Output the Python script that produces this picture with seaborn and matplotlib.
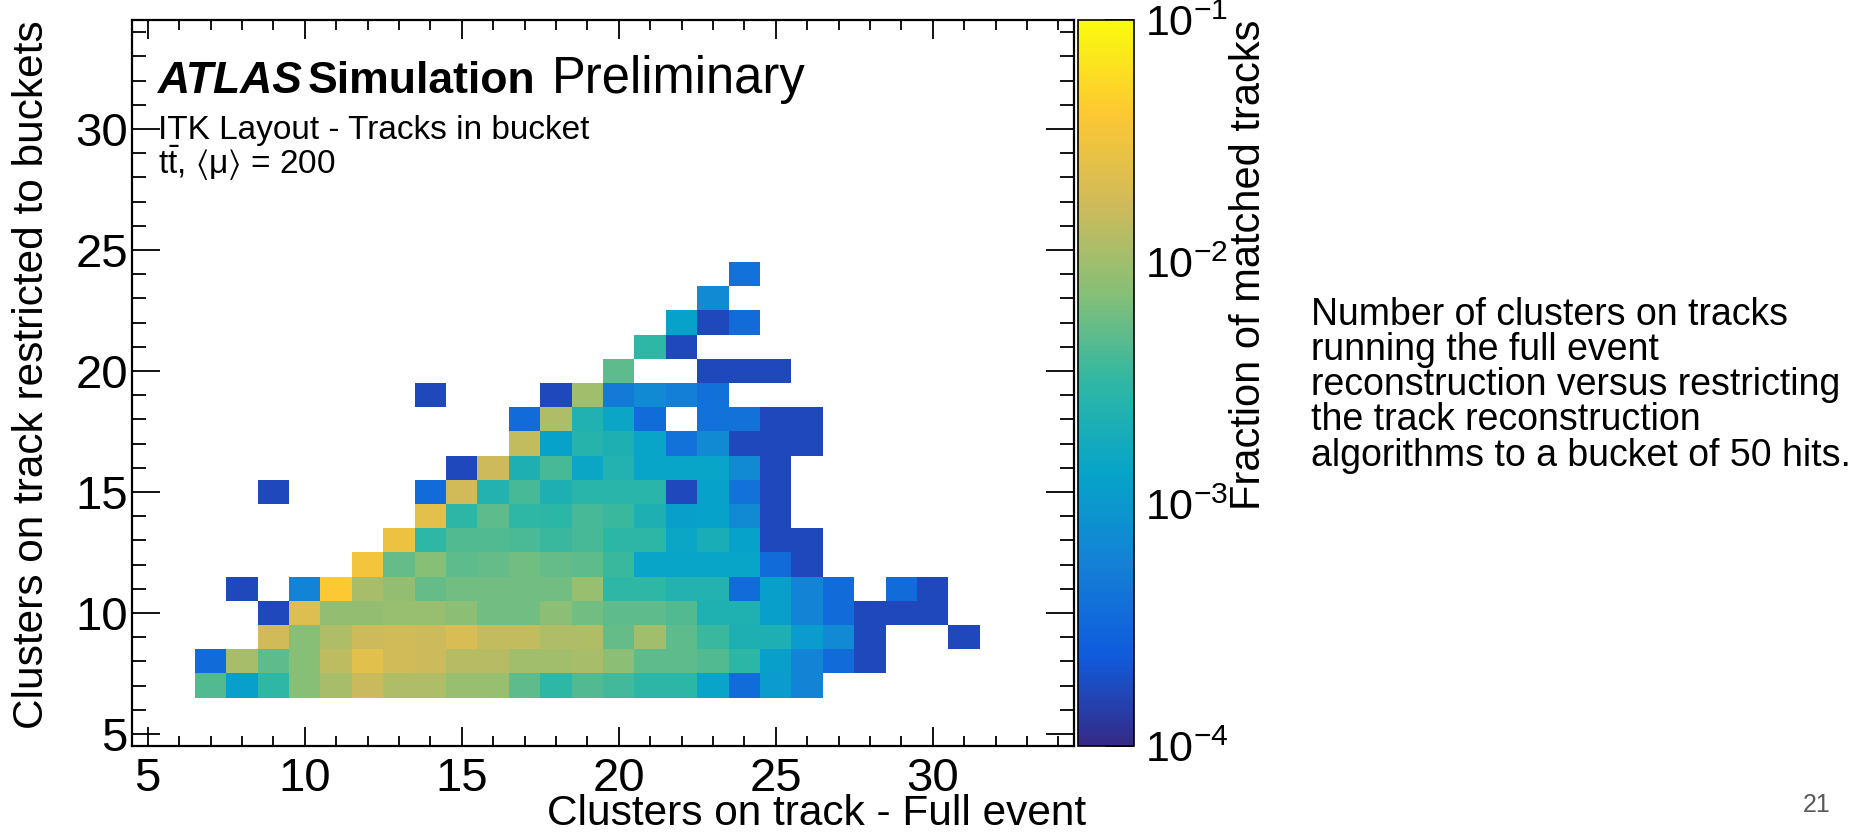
import numpy as np
import pandas as pd
import matplotlib
matplotlib.use("Agg")
import matplotlib.pyplot as plt
import seaborn as sns
from matplotlib.colors import LinearSegmentedColormap, LogNorm
from matplotlib.ticker import LogLocator, NullFormatter

# bins that carry entries
x_bins = list(range(7, 32))            # clusters on track - full event
y_bins = list(range(24, 6, -1))        # clusters on track restricted to buckets (top row first)

o = None
# fraction of matched tracks, one row per y bin (y = 24 ... 7), columns x = 7 ... 31
fraction = [
    [o, o, o, o, o,  o, o, o, o, o,  o, o, o, o, o,  o, o, 4e-4, o, o,  o, o, o, o, o],
    [o, o, o, o, o,  o, o, o, o, o,  o, o, o, o, o,  o, 7e-4, o, o, o,  o, o, o, o, o],
    [o, o, o, o, o,  o, o, o, o, o,  o, o, o, o, o,  1.3e-3, 1.7e-4, 3.5e-4, o, o,  o, o, o, o, o],
    [o, o, o, o, o,  o, o, o, o, o,  o, o, o, o, 3.2e-3,  1.7e-4, o, o, o, o,  o, o, o, o, o],
    [o, o, o, o, o,  o, o, o, o, o,  o, o, o, 5e-3, o,  o, 1.7e-4, 1.7e-4, 1.7e-4, o,  o, o, o, o, o],
    [o, o, o, o, o,  o, o, 1.7e-4, o, o,  o, 1.7e-4, 1.0e-2, 5e-4, 7e-4,  5.5e-4, 3.8e-4, o, o, o,  o, o, o, o, o],
    [o, o, o, o, o,  o, o, o, o, o,  3.5e-4, 1.2e-2, 2.4e-3, 1.5e-3, 3.5e-4,  o, 4e-4, 4e-4, 1.7e-4, 1.7e-4,  o, o, o, o, o],
    [o, o, o, o, o,  o, o, o, o, o,  1.5e-2, 1.3e-3, 2.6e-3, 2.2e-3, 1.4e-3,  4e-4, 7e-4, 1.7e-4, 1.7e-4, 1.7e-4,  o, o, o, o, o],
    [o, o, o, o, o,  o, o, o, 1.7e-4, 1.7e-2,  2.2e-3, 4e-3, 1.5e-3, 2.5e-3, 1.4e-3,  1.4e-3, 1.4e-3, 7e-4, 1.7e-4, o,  o, o, o, o, o],
    [o, o, 1.7e-4, o, o,  o, o, 3.5e-4, 1.8e-2, 2.5e-3,  4e-3, 2.2e-3, 2.8e-3, 2.8e-3, 2.8e-3,  1.7e-4, 1.3e-3, 4e-4, 1.7e-4, o,  o, o, o, o, o],
    [o, o, o, o, o,  o, o, 2.5e-2, 3e-3, 5e-3,  3.2e-3, 3e-3, 4e-3, 3.5e-3, 2.2e-3,  1.2e-3, 1.3e-3, 7e-4, 1.7e-4, o,  o, o, o, o, o],
    [o, o, o, o, o,  o, 3e-2, 3.2e-3, 4.5e-3, 4.5e-3,  4.2e-3, 3.5e-3, 4e-3, 3e-3, 3e-3,  1.5e-3, 2e-3, 1.3e-3, 1.7e-4, 1.7e-4,  o, o, o, o, o],
    [o, o, o, o, o,  3.3e-2, 5.5e-3, 7.5e-3, 5e-3, 5.5e-3,  6e-3, 5.5e-3, 5e-3, 3.5e-3, 1.4e-3,  1.4e-3, 1.4e-3, 1.4e-3, 3.5e-4, 1.7e-4,  o, o, o, o, o],
    [o, 1.7e-4, o, 6e-4, 4e-2,  1.1e-2, 8.5e-3, 5.5e-3, 6e-3, 6e-3,  6e-3, 6e-3, 9e-3, 3.2e-3, 3.2e-3,  2.5e-3, 2.5e-3, 3.5e-4, 1.2e-3, 6e-4,  3.5e-4, o, 3.5e-4, 1.7e-4, o],
    [o, o, 1.7e-4, 2.2e-2, 8.5e-3,  8.5e-3, 9e-3, 9e-3, 8e-3, 6e-3,  6e-3, 8e-3, 6e-3, 5e-3, 5e-3,  4.5e-3, 2.3e-3, 2.3e-3, 1.2e-3, 6e-4,  3.5e-4, 1.7e-4, 1.7e-4, 1.7e-4, o],
    [o, o, 1.8e-2, 7.5e-3, 1.2e-2,  1.7e-2, 1.8e-2, 1.7e-2, 2e-2, 1.5e-2,  1.5e-2, 1.2e-2, 1.2e-2, 5.5e-3, 1e-2,  5e-3, 3.5e-3, 2.2e-3, 2.2e-3, 1.1e-3,  7e-4, 1.7e-4, o, o, 1.7e-4],
    [3.5e-4, 1.1e-2, 5e-3, 7.5e-3, 1.4e-2,  2.4e-2, 1.8e-2, 1.7e-2, 1.3e-2, 1.3e-2,  1e-2, 1e-2, 1.1e-2, 8e-3, 5e-3,  5e-3, 4.5e-3, 3e-3, 1.2e-3, 6e-4,  3.5e-4, 1.7e-4, o, o, o],
    [4.5e-3, 1.2e-3, 3.2e-3, 7.5e-3, 1.1e-2,  1.6e-2, 1.2e-2, 1.2e-2, 9e-3, 9e-3,  5e-3, 3.2e-3, 4.5e-3, 3.8e-3, 3e-3,  3e-3, 1.4e-3, 3.5e-4, 1.1e-3, 6e-4,  o, o, o, o, o],
]

x_ticks = [5, 10, 15, 20, 25, 30]
y_ticks = [5, 10, 15, 20, 25, 30]

side_note = ("Number of clusters on tracks\n"
             "running the full event\n"
             "reconstruction versus restricting\n"
             "the track reconstruction\n"
             "algorithms to a bucket of 50 hits.")

# ROOT kBird palette
bird_stops = [0.0, 0.125, 0.25, 0.375, 0.5, 0.625, 0.75, 0.875, 1.0]
bird_r = [0.2082, 0.0592, 0.0780, 0.0232, 0.1802, 0.5301, 0.8186, 0.9956, 0.9764]
bird_g = [0.1664, 0.3599, 0.5041, 0.6419, 0.7178, 0.7492, 0.7328, 0.7862, 0.9832]
bird_b = [0.5293, 0.8684, 0.8385, 0.7914, 0.6425, 0.4662, 0.3499, 0.1968, 0.0539]
bird = LinearSegmentedColormap.from_list(
    "bird", list(zip(bird_stops, zip(bird_r, bird_g, bird_b))), N=255)

W, H = 1861, 832


def fx(px):
    return px / W


def fy(py):
    return 1 - py / H


def main():
    sns.set_style("ticks")
    plt.rcParams["font.family"] = ["Liberation Sans", "DejaVu Sans"]
    plt.rcParams["mathtext.fontset"] = "custom"
    plt.rcParams["mathtext.rm"] = "Liberation Sans"
    plt.rcParams["mathtext.it"] = "Liberation Sans:italic"
    plt.rcParams["mathtext.bf"] = "Liberation Sans:bold"
    plt.rcParams["mathtext.fallback"] = "stixsans"
    for key in ["text.color", "axes.labelcolor", "xtick.color", "ytick.color"]:
        plt.rcParams[key] = "black"

    # full 5..34 x 5..34 histogram frame
    grid = pd.DataFrame(np.nan, index=np.arange(5, 35), columns=np.arange(5, 35))
    grid.loc[y_bins, x_bins] = np.array(fraction, dtype=float)

    fig = plt.figure(figsize=(W / 100, H / 100), dpi=100)
    ax = fig.add_axes([fx(132), fy(746), fx(1074) - fx(132), fy(20) - fy(746)])
    cax = fig.add_axes([fx(1078), fy(746), fx(1134) - fx(1078), fy(20) - fy(746)])

    sns.heatmap(grid, ax=ax, cmap=bird, norm=LogNorm(1e-4, 1e-1), cbar_ax=cax,
                xticklabels=False, yticklabels=False)
    ax.set_xlim(0, 30)
    ax.set_ylim(0, 30)
    ax.set_xlabel("")
    ax.set_ylabel("")

    ax.set_xticks([t - 4.5 for t in x_ticks], labels=[str(t) for t in x_ticks])
    ax.set_yticks([t - 4.5 for t in y_ticks], labels=[str(t) for t in y_ticks])
    ax.set_xticks(np.arange(5, 35) - 4.5, minor=True)
    ax.set_yticks(np.arange(5, 35) - 4.5, minor=True)
    for side in ["top", "right", "bottom", "left"]:
        ax.spines[side].set_visible(True)
        ax.spines[side].set_linewidth(1.6)
        ax.spines[side].set_color("black")
    ax.tick_params(axis="both", which="both", direction="in", top=True, right=True,
                   width=1.3, color="black", labelcolor="black")
    ax.tick_params(axis="x", which="major", length=14, pad=8, labelsize=34)
    ax.tick_params(axis="x", which="minor", length=7)
    ax.tick_params(axis="y", which="major", length=20, pad=3, labelsize=34)
    ax.tick_params(axis="y", which="minor", length=10)

    # palette axis
    cb = ax.collections[0].colorbar
    cb.outline.set_linewidth(1.2)
    cb.outline.set_edgecolor("black")
    cax.yaxis.set_major_locator(LogLocator(base=10, numticks=10))
    cax.yaxis.set_minor_locator(LogLocator(base=10, subs=np.arange(2, 10), numticks=20))
    cax.yaxis.set_minor_formatter(NullFormatter())
    cax.tick_params(which="both", direction="in", right=True, left=False,
                    width=1.2, color="black", labelcolor="black")
    cax.tick_params(which="major", length=21, pad=8, labelsize=31)
    cax.tick_params(which="minor", length=10)

    fig.text(fx(1249), fy(20), "Fraction of matched tracks", rotation=90,
             ha="center", va="top", fontsize=30)

    # axis titles, ROOT style (aligned to the axis end)
    fig.text(fx(1086), fy(825), "Clusters on track - Full event",
             ha="right", va="baseline", fontsize=30.5)
    fig.text(fx(32), fy(20), "Clusters on track restricted to buckets",
             rotation=90, ha="center", va="top", fontsize=30.5)

    # ATLAS label
    fig.text(fx(158), fy(93), "ATLAS", fontsize=32, fontweight="bold",
             fontstyle="italic", va="baseline")
    fig.text(fx(308), fy(93), "Simulation", fontsize=32, fontweight="bold",
             va="baseline")
    fig.text(fx(552), fy(93), "Preliminary", fontsize=36.5, va="baseline")
    fig.text(fx(158), fy(139), "ITK Layout - Tracks in bucket", fontsize=24,
             va="baseline")
    fig.text(fx(158), fy(174), r"$\mathrm{t\bar{t}}$, $\langle\mathrm{\mu}\rangle$ = 200",
             fontsize=24, va="baseline")

    # slide text
    fig.text(fx(1311), fy(297), side_note, ha="left", va="top", fontsize=27,
             linespacing=0.97)
    fig.text(fx(1831), fy(812), "21", ha="right", va="baseline", fontsize=18,
             color="#595959")

    fig.savefig("out.png", dpi=100)


if __name__ == "__main__":
    main()
